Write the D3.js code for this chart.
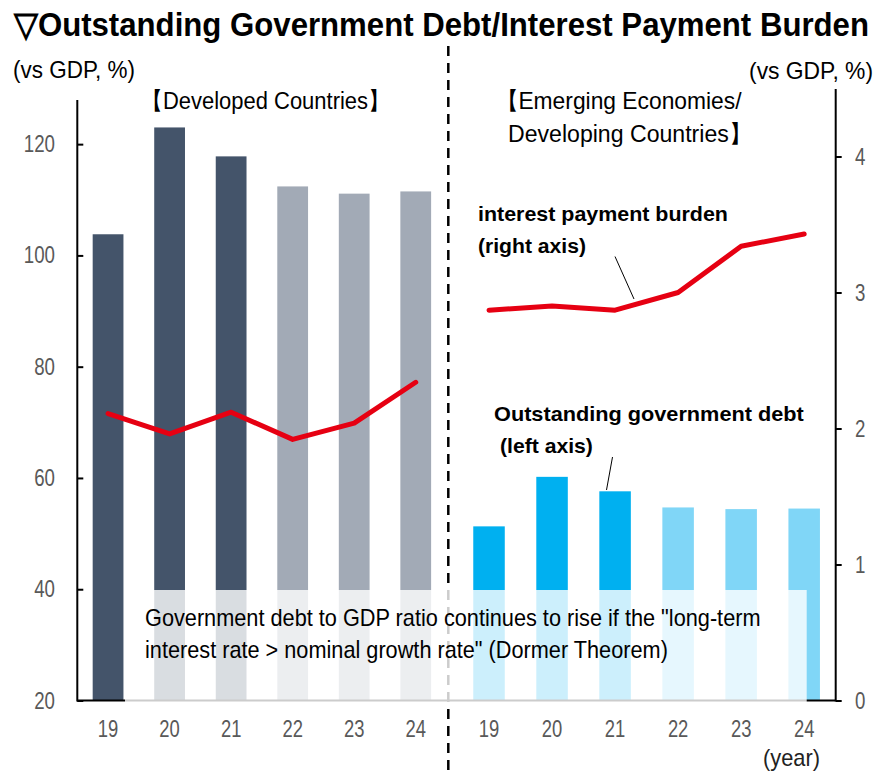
<!DOCTYPE html>
<html>
<head>
<meta charset="utf-8">
<script src="https://cdn.jsdelivr.net/npm/d3@7"></script>
<style>
  html, body { margin: 0; padding: 0; background: #fff; }
  svg { display: block; }
  text { font-family: "Liberation Sans Narrow", "Arial Narrow", "Liberation Sans", Arial, sans-serif; }
  .bold { font-family: "Liberation Sans", Arial, sans-serif; font-weight: bold; }
</style>
</head>
<body>
<div id="chart"></div>
<script>
// Data
const years = ["19", "20", "21", "22", "23", "24"]
const devDebt = [103.8, 123.0, 117.8, 112.4, 111.1, 111.5] // left axis, % of GDP
const emDebt = [51.3, 60.2, 57.6, 54.7, 54.4, 54.5] // left axis, % of GDP
const devInterest = [2.11, 1.96, 2.12, 1.92, 2.04, 2.34] // right axis, % of GDP
const emInterest = [2.87, 2.9, 2.87, 3.0, 3.34, 3.43] // right axis, % of GDP
const leftTicks = [20, 40, 60, 80, 100, 120]
const rightTicks = [0, 1, 2, 3, 4]

const width = 879
const height = 771
const baseY = 700.5
const topY = 88.5

const svg = d3
  .select("#chart")
  .append("svg")
  .attr("width", width)
  .attr("height", height)

// Scales
const yLeft = d3.scaleLinear().domain([20, 130]).range([baseY, topY])
const yRight = d3.scaleLinear().domain([0, 4.5]).range([baseY, topY])
const xDev = d3.scaleBand().domain(years).range([77.3, 446.5]).paddingInner(0.5).paddingOuter(0.25)
const xEm = d3.scaleBand().domain(years).range([457.5, 835.7]).paddingInner(0.5).paddingOuter(0.25)

// helper: text squeezed horizontally to a measured width (narrow font look)
function label(x, y, str, opts = {}) {
  const t = svg
    .append("text")
    .attr("font-size", opts.size || 22)
    .attr("fill", opts.fill || "#000")
    .attr("text-anchor", opts.anchor || "start")
    .text(str)
  if (opts.cls) t.attr("class", opts.cls)
  if (opts.weight) t.attr("font-weight", opts.weight)
  let sx = 1
  if (opts.len) sx = opts.len / t.node().getComputedTextLength()
  t.attr("transform", `translate(${x},${y}) scale(${sx},1)`)
  return t
}

// Bars
const devColor = (i) => (i < 3 ? "#44546a" : "#a2aab6")
const emColor = (i) => (i < 3 ? "#00b0f0" : "#80d6f7")

svg
  .append("g")
  .selectAll("rect")
  .data(devDebt)
  .join("rect")
  .attr("x", (d, i) => xDev(years[i]))
  .attr("width", xDev.bandwidth())
  .attr("y", (d) => yLeft(d))
  .attr("height", (d) => baseY - yLeft(d))
  .attr("fill", (d, i) => devColor(i))

svg
  .append("g")
  .selectAll("rect")
  .data(emDebt)
  .join("rect")
  .attr("x", (d, i) => xEm(years[i]))
  .attr("width", xEm.bandwidth())
  .attr("y", (d) => yLeft(d))
  .attr("height", (d) => baseY - yLeft(d))
  .attr("fill", (d, i) => emColor(i))

// Interest payment lines
const lineDev = d3
  .line()
  .x((d, i) => xDev(years[i]) + xDev.bandwidth() / 2)
  .y((d) => yRight(d))
const lineEm = d3
  .line()
  .x((d, i) => xEm(years[i]) + xEm.bandwidth() / 2)
  .y((d) => yRight(d))

;[
  [devInterest, lineDev],
  [emInterest, lineEm],
].forEach(([data, gen]) => {
  svg
    .append("path")
    .datum(data)
    .attr("d", gen)
    .attr("fill", "none")
    .attr("stroke", "#e60012")
    .attr("stroke-width", 5)
    .attr("stroke-linejoin", "round")
    .attr("stroke-linecap", "round")
})

// x axis baseline
svg
  .append("line")
  .attr("x1", 77.3)
  .attr("x2", 835.7)
  .attr("y1", baseY)
  .attr("y2", baseY)
  .attr("stroke", "#000")
  .attr("stroke-width", 2)

// divider between the two groups
svg
  .append("line")
  .attr("x1", 448.3)
  .attr("x2", 448.3)
  .attr("y1", 46)
  .attr("y2", 771)
  .attr("stroke", "#000")
  .attr("stroke-width", 2.5)
  .attr("stroke-dasharray", "10,7")

// Left axis
const axL = svg
  .append("g")
  .attr("transform", "translate(77.3,0)")
  .call(d3.axisRight(yLeft).tickValues(leftTicks).tickSize(6).tickPadding(0))
axL.select(".domain").remove()
axL.selectAll(".tick line").attr("stroke", "#000").attr("stroke-width", 2)
axL.selectAll(".tick text").remove()
axL
  .append("line")
  .attr("y1", 100)
  .attr("y2", baseY + 1)
  .attr("stroke", "#000")
  .attr("stroke-width", 2)
leftTicks.forEach((v) => {
  const s = String(v)
  label(55, yLeft(v) + 8, s, { size: 23, fill: "#595959", anchor: "end", len: s.length * 10.4 })
})

// Right axis
const axR = svg
  .append("g")
  .attr("transform", "translate(835.7,0)")
  .call(d3.axisRight(yRight).tickValues(rightTicks).tickSize(6).tickPadding(0))
axR.select(".domain").remove()
axR.selectAll(".tick line").attr("stroke", "#000").attr("stroke-width", 2)
axR.selectAll(".tick text").remove()
axR
  .append("line")
  .attr("y1", 89)
  .attr("y2", baseY + 1)
  .attr("stroke", "#000")
  .attr("stroke-width", 2)
rightTicks.forEach((v) => {
  label(855, yRight(v) + 8, String(v), { size: 23, fill: "#595959", len: 10.4 })
})

// x tick labels
years.forEach((y) => {
  label(xDev(y) + xDev.bandwidth() / 2, 737, y, { size: 23, fill: "#595959", anchor: "middle", len: 20.5 })
  label(xEm(y) + xEm.bandwidth() / 2, 737, y, { size: 23, fill: "#595959", anchor: "middle", len: 20.5 })
})
label(820, 766, "(year)", { size: 23, fill: "#222", anchor: "end", len: 57 })

// translucent note box over the lower bars
svg
  .append("rect")
  .attr("x", 125)
  .attr("y", 590)
  .attr("width", 681.7)
  .attr("height", 112)
  .attr("fill", "#fff")
  .attr("fill-opacity", 0.8)

label(145, 626, 'Government debt to GDP ratio continues to rise if the "long-term', { size: 24, len: 616 })
label(145, 658, 'interest rate > nominal growth rate" (Dormer Theorem)', { size: 24, len: 523 })

// Title and headings
label(14, 36, "▽Outstanding Government Debt/Interest Payment Burden", { size: 34, len: 855, weight: "bold" })
label(13, 78, "(vs GDP, %)", { size: 24, len: 122 })
label(873, 79, "(vs GDP, %)", { size: 24, len: 124, anchor: "end" })
label(141, 109, "【Developed Countries】", { size: 24, len: 249 })
label(496, 109, "【Emerging Economies/", { size: 24, len: 246 })
label(508, 142, "Developing Countries】", { size: 24, len: 244 })

// Series call-outs
label(478, 221, "interest payment burden", { size: 20, cls: "bold", len: 250 })
label(478, 253, "(right axis)", { size: 20, cls: "bold", len: 108 })
svg.append("line").attr("x1", 615).attr("y1", 256.5).attr("x2", 634).attr("y2", 299).attr("stroke", "#000").attr("stroke-width", 1)

label(494, 421, "Outstanding government debt", { size: 20, cls: "bold", len: 310 })
label(500, 453, "(left axis)", { size: 20, cls: "bold", len: 93 })
svg.append("line").attr("x1", 612.5).attr("y1", 457).attr("x2", 606.5).attr("y2", 490).attr("stroke", "#000").attr("stroke-width", 1)
</script>
</body>
</html>
